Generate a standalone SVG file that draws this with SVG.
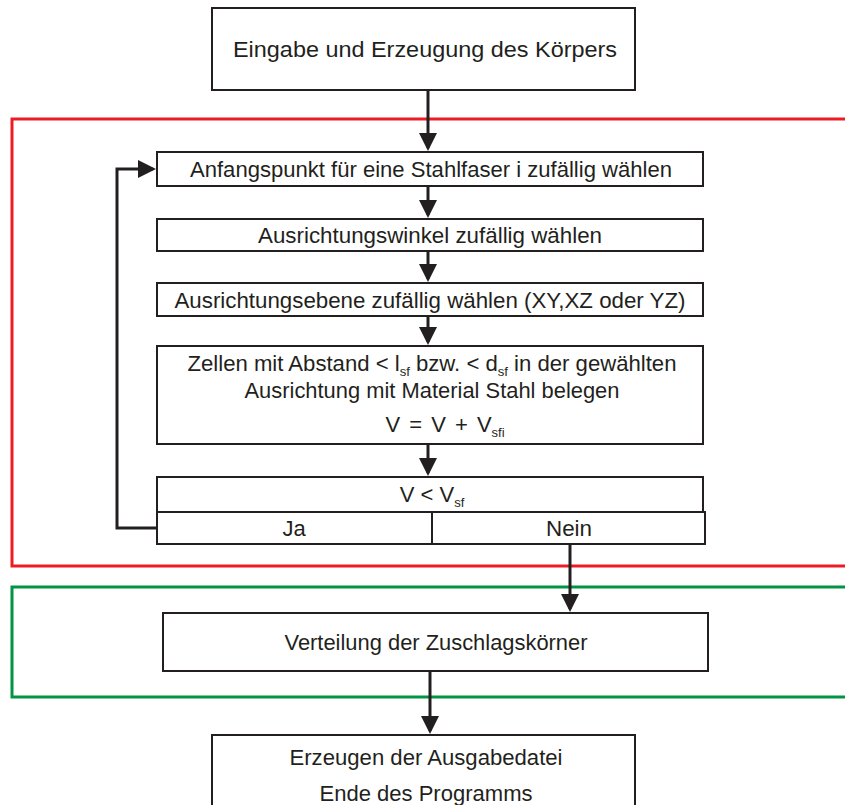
<svg xmlns="http://www.w3.org/2000/svg" width="845" height="805" viewBox="0 0 845 805">
  <style>
    .box { fill: #ffffff; stroke: #231f20; stroke-width: 2; }
    .t { font-family: "Liberation Sans", Arial, sans-serif; font-size: 22px; fill: #231f20; text-anchor: middle; }
    .sub { font-size: 13px; }
    .wire { fill: none; stroke: #231f20; stroke-width: 3; }
    .zone-red { fill: none; stroke: #ed1c24; stroke-width: 3; }
    .zone-green { fill: none; stroke: #009444; stroke-width: 3; }
  </style>
  <defs>
    <marker id="arrow" markerWidth="6" markerHeight="6" refX="5" refY="3" orient="auto" markerUnits="strokeWidth">
      <path d="M0,0 L6,3 L0,6 Z" fill="#231f20"/>
    </marker>
  </defs>

  <!-- zone frames -->
  <rect class="zone-red" x="12" y="119" width="850" height="447"/>
  <rect class="zone-green" x="12" y="587" width="850" height="110"/>

  <g id="start">
    <rect class="box" x="212" y="8" width="423" height="82"/>
    <text class="t" x="425" y="57" textLength="384" lengthAdjust="spacingAndGlyphs">Eingabe und  Erzeugung des  Körpers</text>
  </g>

  <g id="startpoint">
    <rect class="box" x="157" y="152" width="546" height="34"/>
    <text class="t" x="431" y="177" textLength="482" lengthAdjust="spacingAndGlyphs">Anfangspunkt für eine Stahlfaser i zufällig wählen</text>
  </g>

  <g id="angle">
    <rect class="box" x="157" y="219" width="546" height="32"/>
    <text class="t" x="430" y="243" textLength="344" lengthAdjust="spacingAndGlyphs">Ausrichtungswinkel zufällig wählen</text>
  </g>

  <g id="plane">
    <rect class="box" x="157" y="283" width="546" height="33"/>
    <text class="t" x="430" y="308" textLength="511" lengthAdjust="spacingAndGlyphs">Ausrichtungsebene zufällig wählen (XY,XZ oder YZ)</text>
  </g>

  <g id="cells">
    <rect class="box" x="157" y="346" width="546" height="98"/>
    <text class="t" x="432" y="371" textLength="489" lengthAdjust="spacingAndGlyphs">Zellen mit Abstand &lt; l<tspan class="sub" dy="5">sf</tspan><tspan dy="-5"> bzw. &lt; d</tspan><tspan class="sub" dy="5">sf</tspan><tspan dy="-5"> in der gewählten</tspan></text>
    <text class="t" x="432" y="398" textLength="375" lengthAdjust="spacingAndGlyphs">Ausrichtung mit Material Stahl belegen</text>
    <text class="t" x="445" y="432" word-spacing="3">V = V + V<tspan class="sub" dy="5">sfi</tspan></text>
  </g>

  <g id="decision">
    <rect class="box" x="157" y="477" width="546" height="35"/>
    <text class="t" x="432" y="502">V &lt; V<tspan class="sub" dy="5">sf</tspan></text>
    <rect class="box" x="157" y="512" width="275" height="32"/>
    <rect class="box" x="432" y="512" width="273" height="32"/>
    <text class="t" x="294" y="536">Ja</text>
    <text class="t" x="569" y="536" textLength="46" lengthAdjust="spacingAndGlyphs">Nein</text>
  </g>

  <g id="aggregate">
    <rect class="box" x="163" y="613" width="545" height="58"/>
    <text class="t" x="436" y="650" textLength="303" lengthAdjust="spacingAndGlyphs">Verteilung der Zuschlagskörner</text>
  </g>

  <g id="output">
    <rect class="box" x="212" y="735" width="423" height="80"/>
    <text class="t" x="426" y="765" textLength="273" lengthAdjust="spacingAndGlyphs">Erzeugen der Ausgabedatei</text>
    <text class="t" x="426" y="801" textLength="213" lengthAdjust="spacingAndGlyphs">Ende des Programms</text>
  </g>

  <g id="connectors">
    <path class="wire" d="M428,90 V148" marker-end="url(#arrow)"/>
    <path class="wire" d="M428,186 V215" marker-end="url(#arrow)"/>
    <path class="wire" d="M428,251 V279" marker-end="url(#arrow)"/>
    <path class="wire" d="M428,316 V342" marker-end="url(#arrow)"/>
    <path class="wire" d="M428,444 V473" marker-end="url(#arrow)"/>
    <path class="wire" d="M157,528 H117 V169 H153" marker-end="url(#arrow)"/>
    <path class="wire" d="M570,544 V609" stroke-width="2" marker-end="url(#arrow)"/>
    <path class="wire" d="M430,671 V731" marker-end="url(#arrow)"/>
  </g>
</svg>
